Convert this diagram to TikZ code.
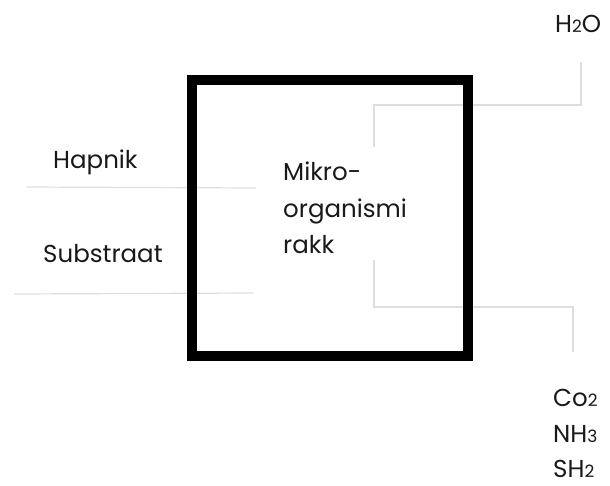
\documentclass[tikz,border=0pt]{standalone}
\usepackage{fontspec}
\setmainfont{Poppins}
\newcommand{\chemsub}[1]{\raisebox{-0.5pt}{\fontsize{17}{17}\selectfont #1}}
\tikzset{
  lbl/.style={anchor=base west, inner sep=0pt, text depth=0pt, font=\fontsize{24.5}{24.5}\selectfont, text=black!90},
  thin gray/.style={draw=black!13, line width=1.2pt},
  bigbox/.style={draw=black, line width=10pt, minimum width=276pt, minimum height=276pt, inner sep=0pt}
}
\begin{document}
\begin{tikzpicture}[x=1pt,y=-1pt]
\useasboundingbox (0,0) rectangle (610,485);
% gray connectors
\coordinate (h1) at (27,187);
\coordinate (h2) at (256,188);
\coordinate (s1) at (14,294);
\coordinate (s2) at (253,293);
\coordinate (w1) at (374,147);
\coordinate (w2) at (374,105);
\coordinate (w3) at (581,105);
\coordinate (w4) at (581,62);
\coordinate (g1) at (374,260);
\coordinate (g2) at (374,307);
\coordinate (g3) at (573,307);
\coordinate (g4) at (573,352);
\draw[thin gray] (h1) -- (h2);
\draw[thin gray] (s1) -- (s2);
\draw[thin gray] (w1) -- (w2) -- (w3) -- (w4);
\draw[thin gray] (g1) -- (g2) -- (g3) -- (g4);
% box
\node[bigbox] (box) at (330,218) {};
% labels
\node[lbl] (hap) at (53,168) {Hapnik};
\node[lbl] (sub) at (43,262) {Substraat};
\node[lbl] (m1) at (283,180) {Mikro-};
\node[lbl] (m2) at (283,217) {organismi};
\node[lbl] (m3) at (283,253) {rakk};
\node[lbl] (h2o) at (555,32) {H\chemsub{2}O};
\node[lbl] (co) at (553,406) {Co\chemsub{2}};
\node[lbl] (nh) at (553,442) {NH\chemsub{3}};
\node[lbl] (sh) at (553,477) {SH\chemsub{2}};
\end{tikzpicture}
\end{document}
